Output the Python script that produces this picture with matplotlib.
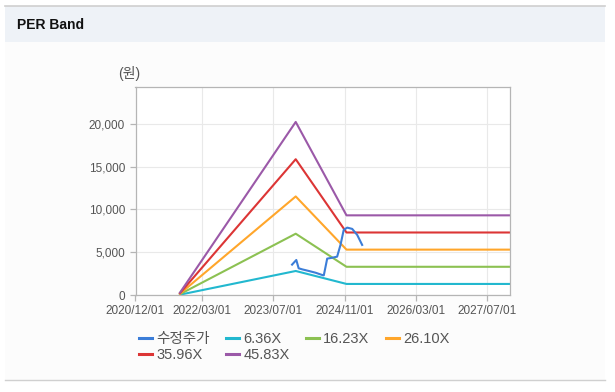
import matplotlib
matplotlib.use('Agg')
import matplotlib.pyplot as plt
import matplotlib.ticker as mticker
import matplotlib.dates as mdates
from matplotlib.patches import Rectangle
from matplotlib.lines import Line2D
import pandas as pd

plt.rcParams['font.family'] = ['Liberation Sans', 'Noto Sans CJK KR', 'DejaVu Sans']

# EPS 기준점 (밴드 = EPS x PER 배수)
eps_dates = ['2021-10-01', '2023-12-01', '2024-11-12', '2027-12-01']
eps_values = [6, 441, 203, 203]
per_multiples = [6.36, 16.23, 26.10, 35.96, 45.83]
band_labels = ['6.36X', '16.23X', '26.10X', '35.96X', '45.83X']
band_colors = ['#22b8cf', '#8cc152', '#ffa62b', '#dc3535', '#9b59a8']

# 수정주가
price_dates = ['2023-11-06', '2023-12-05', '2023-12-21', '2024-01-13', '2024-03-01',
               '2024-04-15', '2024-06-05', '2024-06-10', '2024-07-03', '2024-08-06',
               '2024-09-09', '2024-10-02', '2024-10-24', '2024-11-17', '2024-12-21',
               '2025-01-24', '2025-02-27']
price_values = [3550, 4090, 3120, 3000, 2800, 2600, 2300, 2300, 4250, 4350,
                4480, 5850, 7600, 7870, 7720, 7020, 5850]
price_color = '#3b7dd8'

xtick_dates = ['2020-12-01', '2022-03-01', '2023-07-01', '2024-11-01', '2026-03-01', '2027-07-01']
yticks = [0, 5000, 10000, 15000, 20000]

fig = plt.figure(figsize=(6.15, 3.92), dpi=100)
fig.patch.set_facecolor('white')

# 패널 배경 / 헤더
W, H = 615, 392
fig.patches.append(Rectangle((5 / W, 1 - 380 / H), 600 / W, 338 / H, transform=fig.transFigure,
                             facecolor='#fcfcfc', edgecolor='none', zorder=-10))
fig.patches.append(Rectangle((5 / W, 1 - 42 / H), 600 / W, 36 / H, transform=fig.transFigure,
                             facecolor='#eef2f7', edgecolor='none', zorder=-10))
fig.lines.append(Line2D([5 / W, 605 / W], [1 - 6 / H, 1 - 6 / H], transform=fig.transFigure,
                        color='#cfcfcf', lw=1.2, zorder=-5))
fig.lines.append(Line2D([5 / W, 605 / W], [1 - 380 / H, 1 - 380 / H], transform=fig.transFigure,
                        color='#d0d0d0', lw=1, zorder=-5))
fig.text(17 / W, 1 - 25 / H, 'PER Band', fontsize=10, fontweight='bold', color='#111111', va='center')

ax = fig.add_axes([135.5 / W, 1 - 295 / H, (509.5 - 135.5) / W, (295 - 86.5) / H])
ax.set_facecolor('white')
ax.set_zorder(1)

ed = pd.to_datetime(eps_dates)
handles = []
for mult, lab, col in zip(per_multiples, band_labels, band_colors):
    h, = ax.plot(ed, [e * mult for e in eps_values], color=col, lw=1.5, label=lab)
    handles.append(h)
hp, = ax.plot(pd.to_datetime(price_dates), price_values, color=price_color, lw=1.5, label='수정주가')
handles = [hp] + handles

ax.set_xlim(pd.Timestamp('2020-12-01'), pd.Timestamp('2027-12-01'))
ax.set_ylim(0, 24350)
ax.set_xticks(pd.to_datetime(xtick_dates))
ax.xaxis.set_major_formatter(mdates.DateFormatter('%Y/%m/%d'))
ax.set_yticks(yticks)
ax.yaxis.set_major_formatter(mticker.FuncFormatter(lambda v, p: f'{int(v):,}'))
ax.grid(True, color='#e9e9e9', lw=0.8)
ax.set_axisbelow(True)
for s in ax.spines.values():
    s.set_color('#b5b5b5')
    s.set_linewidth(0.9)
ax.tick_params(axis='both', colors='#b5b5b5', labelcolor='#555555', labelsize=8.5, length=4, width=0.9)
ax.tick_params(axis='x', pad=3)

ax.text(-0.017, 1.06, '(원)', transform=ax.transAxes, ha='center', va='center', fontsize=10, color='#555555')

# 범례 (행 우선 배치를 위해 순서 재배열)
order = [0, 4, 1, 5, 2, 3]
leg = fig.legend([handles[i] for i in order], [handles[i].get_label() for i in order],
                 ncol=4, loc='upper left', bbox_to_anchor=(139 / W, 1 - 332 / H),
                 frameon=False, fontsize=10.5, handlelength=0.9, handletextpad=0.3,
                 columnspacing=1.1, labelspacing=0.15, borderaxespad=0, borderpad=0)
for t in leg.get_texts():
    t.set_color('#555555')
for l in leg.get_lines():
    l.set_linewidth(2.2)

fig.savefig('out.png', dpi=100, facecolor=fig.get_facecolor())
